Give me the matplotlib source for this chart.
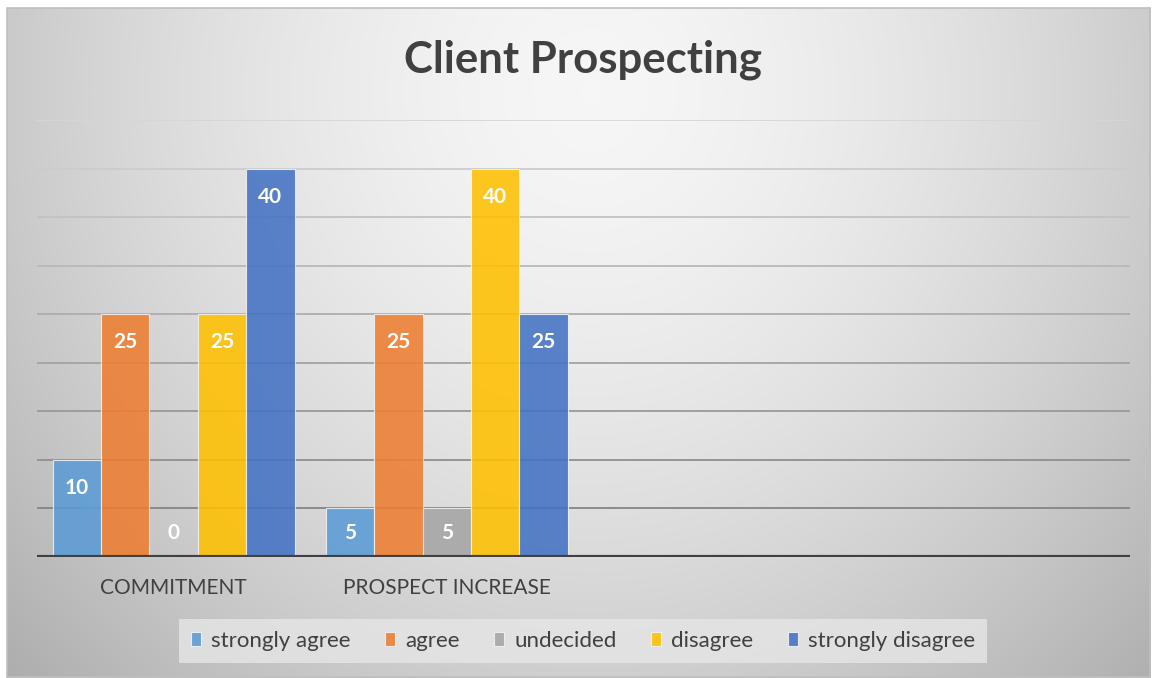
import numpy as np
import matplotlib.pyplot as plt
from matplotlib.patches import Rectangle

plt.rcParams['font.family'] = ['Lato', 'DejaVu Sans']

categories = ['COMMITMENT', 'PROSPECT INCREASE', '', '']
series = ['strongly agree', 'agree', 'undecided', 'disagree', 'strongly disagree']
values = {
    'strongly agree':    [10, 5, None, None],
    'agree':             [25, 25, None, None],
    'undecided':         [0, 5, None, None],
    'disagree':          [25, 40, None, None],
    'strongly disagree': [40, 25, None, None],
}
colors = ['#5B9BD5', '#ED7D31', '#A5A5A5', '#FFC000', '#4472C4']
y_ticks = np.arange(0, 50, 5)

W, H = 1152, 678
fig = plt.figure(figsize=(W / 100, H / 100), dpi=100)

# background: light radial gradient inside a framed chart area
bg = fig.add_axes([0, 0, 1, 1], zorder=-10)
yy, xx = np.mgrid[0:H, 0:W]
d = np.sqrt(((xx - 590) / 600.0) ** 2 + ((yy - 90) / 640.0) ** 2)
shade = 0.965 - 0.18 * d ** 1.6
inside = (xx >= 7) & (xx <= 1150) & (yy >= 8) & (yy <= 677)
shade = np.where(inside, shade, 1.0)
bg.imshow(np.dstack([shade] * 3), extent=[0, W, H, 0], aspect='auto')
bg.add_patch(Rectangle((7, 8), 1143, 669, fill=False, edgecolor='#bfbfbf', lw=1.2))
bg.set_xlim(0, W)
bg.set_ylim(H, 0)
bg.axis('off')

ax = fig.add_axes([37 / W, 1 - 557 / H, (1130 - 37) / W, (557 - 120) / H])
ax.patch.set_alpha(0)
ax.set_xlim(-0.5, len(categories) - 0.5)
ax.set_ylim(0, 45)

# gridlines get darker toward the bottom, like the gradient in the reference
for t in y_ticks[1:]:
    g = 0.84 - 0.32 * (45 - t) / 40
    ax.axhline(t, color=(g, g, g), lw=1.3, zorder=1)

x = np.arange(len(categories))
bw = 0.177
for i, (name, c) in enumerate(zip(series, colors)):
    xs = x + (i - 2) * bw
    for xi, v in zip(xs, values[name]):
        if v is None:
            continue
        ax.bar(xi, v, width=bw, color=c, alpha=0.88, edgecolor='#f2f2f2',
               linewidth=0.8, zorder=2)
        ax.text(xi, max(v - 2.9, 2.5), str(v), ha='center', va='center',
                color='white', fontsize=15, fontweight='bold', zorder=3)

ax.axhline(0, color='#404040', lw=3, zorder=4)
ax.set_xticks(x)
ax.set_xticklabels(categories, fontsize=15, color='#404040')
ax.tick_params(axis='x', length=0, pad=15)
ax.set_yticks([])
for s in ax.spines.values():
    s.set_visible(False)

fig.text(583 / W, 1 - 60 / H, 'Client Prospecting', ha='center', va='center',
         fontsize=31.5, fontweight='bold', color='#404040')

handles = [Rectangle((0, 0), 1, 1, color=c, alpha=0.88, ec='#f2f2f2', lw=0.8)
           for c in colors]
leg = fig.legend(handles, series, loc='center', bbox_to_anchor=(583 / W, 1 - 641 / H),
                 ncol=5, frameon=True, fontsize=16, handlelength=0.45,
                 handleheight=0.6, handletextpad=0.45, columnspacing=1.55,
                 borderpad=0.55, fancybox=False)
leg.get_frame().set_facecolor('#e6e6e6')
leg.get_frame().set_edgecolor('none')
leg.get_frame().set_alpha(0.8)
for t in leg.get_texts():
    t.set_color('#404040')

fig.savefig('out.png', dpi=100)
